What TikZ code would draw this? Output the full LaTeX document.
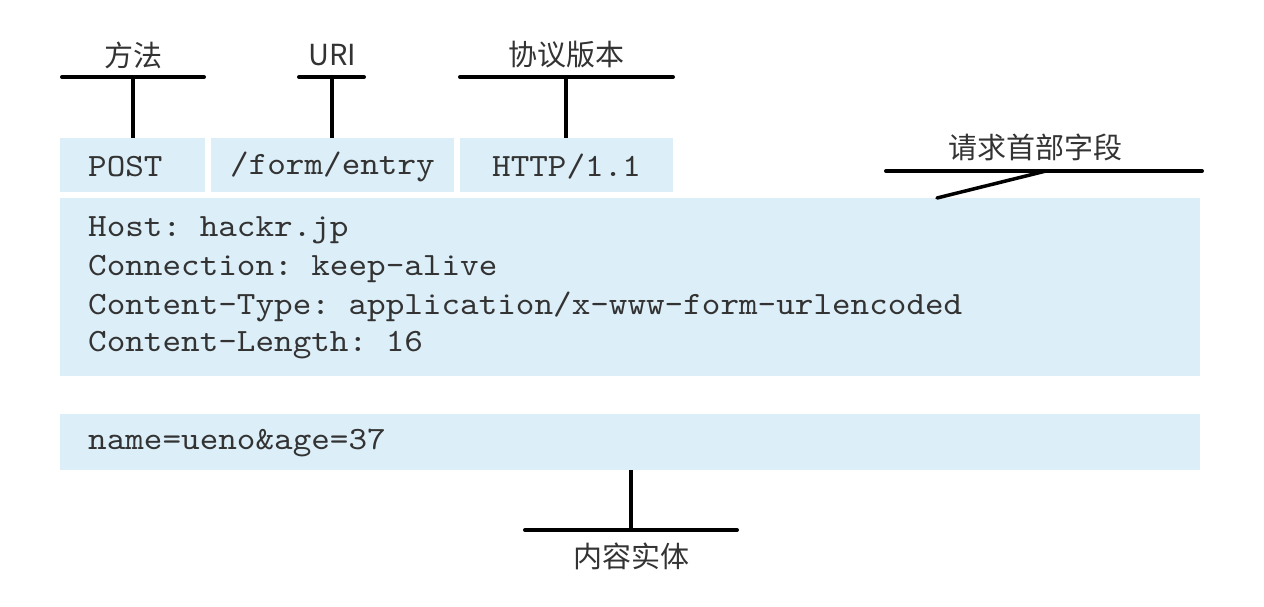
\documentclass[tikz,border=0pt]{standalone}
\usepackage{fontspec}
\setmonofont{lmmono10-regular}[Extension=.otf, FakeStretch=1.09]
\newfontfamily\cjk{Noto Sans CJK SC}
\definecolor{boxblue}{HTML}{DCEEF8}
\begin{document}
\begin{tikzpicture}[x=1pt,y=-1pt,
  box/.style={fill=boxblue, draw=none, inner sep=0pt, anchor=north west},
  code/.style={font=\fontsize{32.5}{38}\selectfont\ttfamily, text=black!80, anchor=west, inner sep=0pt},
  lbl/.style={font=\fontsize{29}{34}\selectfont\cjk, text=black!80, inner sep=0pt},
  bar/.style={line width=4pt, line cap=round},
  stem/.style={line width=3.5pt}]
\useasboundingbox[fill=white] (0,0) rectangle (1264,606);
% boxes
\node[box, minimum width=145, minimum height=54] (b1) at (60,138) {};
\node[box, minimum width=243, minimum height=54] (b2) at (211,138) {};
\node[box, minimum width=213, minimum height=54] (b3) at (460,138) {};
\node[box, minimum width=1140, minimum height=178] (hdr) at (60,198) {};
\node[box, minimum width=1140, minimum height=56] (body) at (60,414) {};
% texts
\node[code] (t1) at (88,167) {POST};
\node[code] (t2) at (230,167) {/form/entry};
\node[code] (t3) at (492,167) {HTTP/1.1};
\node[code] (h1) at (88,230) {Host: hackr.jp};
\node[code] (h2) at (88,269) {Connection: keep-alive};
\node[code] (h3) at (88,307) {Content-Type: application/x-www-form-urlencoded};
\node[code] (h4) at (88,345) {Content-Length: 16};
\node[code] (e1) at (88,443) {name=ueno\&age=37};
% labels
\node[lbl] (l1) at (133,55) {方法};
\node[lbl] (l2) at (332,55) {URI};
\node[lbl] (l3) at (566,55) {协议版本};
\node[lbl] (l4) at (1035,147) {请求首部字段};
\node[lbl] (l5) at (631,556) {内容实体};
% bars
\coordinate (a1) at (62,77); \coordinate (a2) at (204,77); \coordinate (ac) at (133,77);
\coordinate (u1) at (299,77); \coordinate (u2) at (364,77); \coordinate (uc) at (332,77);
\coordinate (p1) at (460,77); \coordinate (p2) at (673,77); \coordinate (pc) at (566,77);
\coordinate (r1) at (886,171); \coordinate (r2) at (1202,171); \coordinate (rc) at (1046,171); \coordinate (rt) at (937,198);
\coordinate (n1) at (525,530); \coordinate (n2) at (737,530); \coordinate (nc) at (631,530);
\draw[bar] (a1) -- (a2);
\draw[bar] (u1) -- (u2);
\draw[bar] (p1) -- (p2);
\draw[bar] (r1) -- (r2);
\draw[bar] (n1) -- (n2);
\draw[stem] (ac) -- (ac |- b1.north);
\draw[stem] (uc) -- (uc |- b2.north);
\draw[stem] (pc) -- (pc |- b3.north);
\draw[stem, line cap=round] (rc) -- (rt);
\draw[stem] (nc) -- (nc |- body.south);
\end{tikzpicture}
\end{document}
